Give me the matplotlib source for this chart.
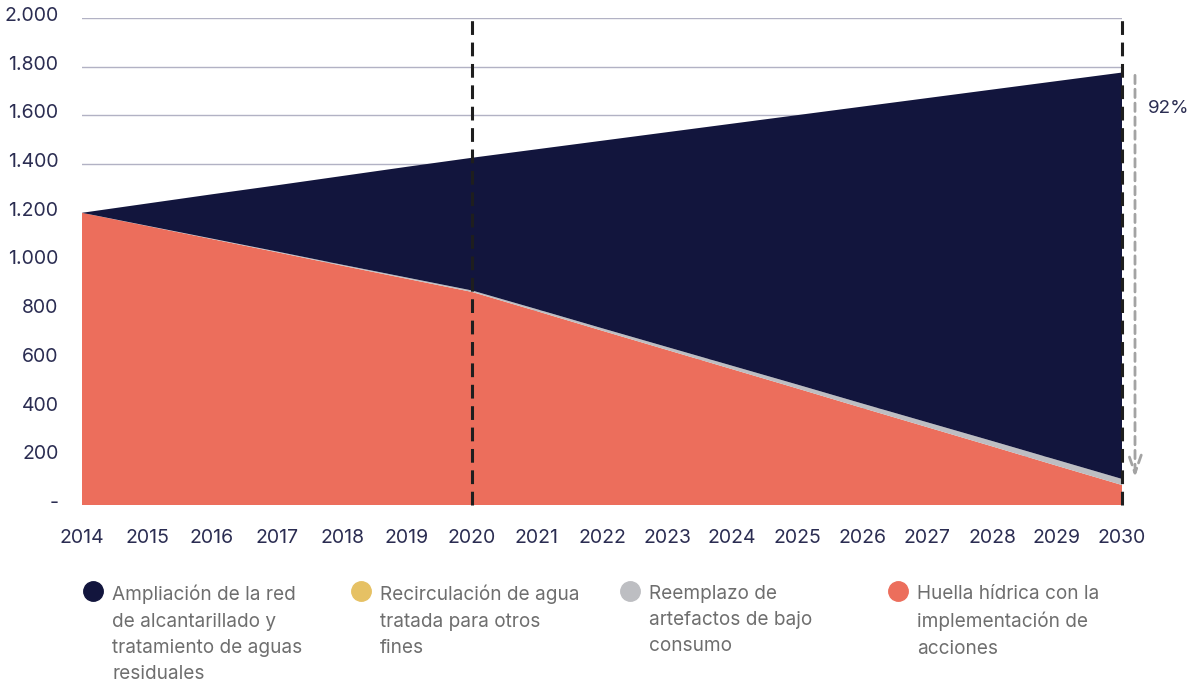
import numpy as np
import matplotlib.pyplot as plt
from matplotlib.lines import Line2D
from matplotlib.transforms import ScaledTranslation

plt.rcParams['font.family'] = ['Inter', 'DejaVu Sans']

# Proyección de la huella hídrica (miles de m3) 2014-2030
years = list(range(2014, 2031))
total = [1200, 1238, 1276, 1313, 1351, 1389, 1426, 1461, 1496, 1531,
         1566, 1601, 1636, 1671, 1706, 1741, 1776]
huella = [1200, 1146, 1092, 1038, 983, 929, 875, 796, 716, 637,
          558, 479, 399, 320, 241, 161, 82]
reemplazo = [0, 1, 2, 3, 4, 5, 6, 8, 10, 12, 14, 16, 18, 20, 22, 24, 25]
recirculacion = [0] * 17
ampliacion = [t - h - r - c for t, h, r, c in zip(total, huella, reemplazo, recirculacion)]

reduccion_label = "92%"
y_ticks = [0, 200, 400, 600, 800, 1000, 1200, 1400, 1600, 1800, 2000]
y_ticklabels = ["-", "200", "400", "600", "800", "1.000", "1.200", "1.400",
                "1.600", "1.800", "2.000"]
marcas = [2020, 2030]

legend_labels = [
    "Ampliación de la red\nde alcantarillado y\ntratamiento de aguas\nresiduales",
    "Recirculación de agua\ntratada para otros\nfines",
    "Reemplazo de\nartefactos de bajo\nconsumo",
    "Huella hídrica con la\nimplementación de\nacciones",
]

NAVY = "#12153d"
ORANGE = "#ec6e5c"
GREY = "#bdbec2"
YELLOW = "#e6c164"
TEXT = "#2b2d52"
LEGEND_TEXT = "#6e6e6e"

fig = plt.figure(figsize=(11.9, 6.84), dpi=100)
ax = fig.add_axes([82 / 1190, 179 / 684, 1040 / 1190, 487 / 684])

ax.stackplot(years, huella, reemplazo, recirculacion, ampliacion,
             colors=[ORANGE, GREY, YELLOW, NAVY], linewidth=0, zorder=2)

ax.set_xlim(2014, 2030)
ax.set_ylim(0, 2000)
ax.set_yticks(y_ticks)
ax.set_yticklabels(y_ticklabels)
ax.set_xticks(years)
ax.grid(axis='y', color='#b2b2c4', linewidth=1, zorder=0)
ax.set_axisbelow(True)
for s in ax.spines.values():
    s.set_visible(False)
ax.tick_params(axis='both', length=0, labelsize=14, colors=TEXT)
ax.tick_params(axis='y', pad=17)
ax.tick_params(axis='x', pad=17)

# etiquetas del eje y un poco por encima de la grilla
up = ScaledTranslation(0, 4 / 100, fig.dpi_scale_trans)
for lbl in ax.get_yticklabels():
    lbl.set_transform(lbl.get_transform() + up)

# lineas de referencia punteadas
for yr in marcas:
    ax.plot([yr, yr], [0, 2012], color='#1e1e1e', linewidth=2.2,
            linestyle=(0, (4.5, 2.5)), clip_on=False, zorder=4)

# flecha de reducción al 2030
ax.annotate("", xy=(2030.2, huella[-1] + reemplazo[-1] - 5),
            xytext=(2030.2, total[-1]),
            arrowprops=dict(arrowstyle='->,head_length=1.3,head_width=0.45',
                            color='#a3a3a3', linewidth=2, linestyle=(0, (3, 2))),
            annotation_clip=False, zorder=4)
ax.text(2030.4, 1630, reduccion_label, fontsize=13.5, color=TEXT,
        va='center', ha='left', clip_on=False)

# leyenda
lx = [93, 361, 630, 898]
colors = [NAVY, YELLOW, GREY, ORANGE]
for x, c, lab in zip(lx, colors, legend_labels):
    fig.add_artist(Line2D([x / 1190], [1 - 591 / 684], marker='o', markersize=14,
                          color=c, linestyle='none', transform=fig.transFigure))
    fig.text((x + 19) / 1190, 1 - 585 / 684, lab, fontsize=13.7, color=LEGEND_TEXT,
             va='top', ha='left', linespacing=1.58)

fig.savefig("out.png", dpi=100)
